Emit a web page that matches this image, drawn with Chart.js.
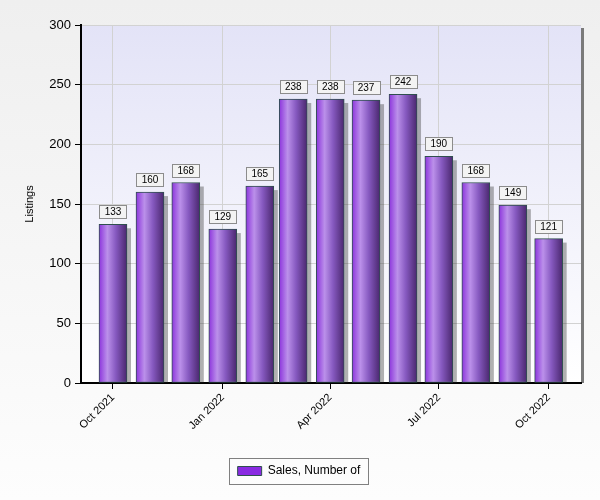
<!DOCTYPE html>
<html>
<head>
<meta charset="utf-8">
<script src="https://cdn.jsdelivr.net/npm/chart.js@4"></script>
<style>
  html, body { margin: 0; padding: 0; background: #f0f0f0; }
  #wrap { width: 600px; height: 500px; }
</style>
</head>
<body>
<div id="wrap"><canvas id="chart" width="600" height="500"></canvas></div>
<script>
const months = ['Oct 2021', 'Nov 2021', 'Dec 2021', 'Jan 2022', 'Feb 2022', 'Mar 2022', 'Apr 2022',
  'May 2022', 'Jun 2022', 'Jul 2022', 'Aug 2022', 'Sep 2022', 'Oct 2022'];
const monthDates = ['2021-10-01', '2021-11-01', '2021-12-01', '2022-01-01', '2022-02-01', '2022-03-01',
  '2022-04-01', '2022-05-01', '2022-06-01', '2022-07-01', '2022-08-01', '2022-09-01', '2022-10-01'];
const sales = [133, 160, 168, 129, 165, 238, 238, 237, 242, 190, 168, 149, 121];
const tickMonths = [0, 3, 6, 9, 12];
const yTicks = [0, 50, 100, 150, 200, 250, 300];

const FONT = '"Liberation Sans", Arial, sans-serif';
const SWATCH = '#8a2be2';
const DAY = 86400000;

// days since the first month, so bars sit on a real date axis
const dayOf = monthDates.map((d) => Math.round((Date.parse(d) - Date.parse(monthDates[0])) / DAY));

function barFill(context) {
  const chart = context.chart;
  if (context.dataIndex === undefined || !chart.scales.x) return SWATCH;
  const x = chart.scales.x.getPixelForValue(dayOf[context.dataIndex]);
  if (!Number.isFinite(x)) return SWATCH;
  const g = chart.ctx.createLinearGradient(x - 14, 0, x + 14, 0);
  g.addColorStop(0, '#8c34dc');
  g.addColorStop(0.3, '#bb90ea');
  g.addColorStop(0.6, '#8659c0');
  g.addColorStop(1, '#4a276e');
  return g;
}

const backdrop = {
  id: 'backdrop',
  beforeDraw(chart) {
    const { ctx, width, height, chartArea: a } = chart;
    ctx.save();
    const page = ctx.createLinearGradient(0, 0, 0, height);
    page.addColorStop(0, '#efefef');
    page.addColorStop(1, '#fdfdfd');
    ctx.fillStyle = page;
    ctx.fillRect(0, 0, width, height);
    // right-side shadow of the plot frame
    ctx.fillStyle = '#7a7a7a';
    ctx.fillRect(a.right, a.top + 3, 3, a.bottom - a.top - 3);
    const plot = ctx.createLinearGradient(0, a.top, 0, a.bottom);
    plot.addColorStop(0, '#e3e3f7');
    plot.addColorStop(1, '#ffffff');
    ctx.fillStyle = plot;
    ctx.fillRect(a.left, a.top, a.right - a.left, a.bottom - a.top);
    ctx.strokeStyle = '#c8c8c8';
    ctx.lineWidth = 1;
    ctx.beginPath();
    ctx.moveTo(a.left, a.top + 0.5);
    ctx.lineTo(a.right, a.top + 0.5);
    ctx.stroke();
    ctx.restore();
  }
};

const barShadows = {
  id: 'barShadows',
  beforeDatasetsDraw(chart) {
    const { ctx } = chart;
    ctx.save();
    ctx.fillStyle = 'rgba(60,60,60,0.4)';
    chart.getDatasetMeta(0).data.forEach((bar) => {
      const { x, y, base, width } = bar.getProps(['x', 'y', 'base', 'width'], true);
      ctx.fillRect(x + width / 2, y + 4, 4, base - y - 4);
    });
    ctx.restore();
  }
};

const valueBoxes = {
  id: 'valueBoxes',
  afterDatasetsDraw(chart) {
    const { ctx } = chart;
    ctx.save();
    ctx.font = '10px ' + FONT;
    ctx.textAlign = 'center';
    ctx.textBaseline = 'middle';
    chart.getDatasetMeta(0).data.forEach((bar, i) => {
      const { x, y } = bar.getProps(['x', 'y'], true);
      const text = String(sales[i]);
      const w = Math.round(ctx.measureText(text).width) + 10;
      const h = 13;
      const left = Math.round(x - w / 2) + 0.5;
      const top = Math.round(y - 6 - h) + 0.5;
      ctx.fillStyle = '#f3f3f3';
      ctx.fillRect(left, top, w, h);
      ctx.strokeStyle = '#8c8c8c';
      ctx.lineWidth = 1;
      ctx.strokeRect(left, top, w, h);
      ctx.fillStyle = '#000';
      ctx.fillText(text, x, top + h / 2 + 0.5);
    });
    ctx.restore();
  }
};

const legendFrame = {
  id: 'legendFrame',
  afterDraw(chart) {
    const box = chart.legend.legendHitBoxes[0];
    if (!box) return;
    const { ctx } = chart;
    const left = Math.round(box.left - 9) + 0.5;
    const top = Math.round(box.top + box.height / 2 - 13) + 0.5;
    const w = Math.round(box.width + 16);
    const h = 26;
    ctx.save();
    ctx.globalCompositeOperation = 'destination-over';
    ctx.fillStyle = '#e4e4f8';
    ctx.fillRect(left, top, w, h);
    ctx.fillStyle = '#8a8a8a';
    ctx.fillRect(left + 3, top + 3, w, h);
    ctx.restore();
    ctx.save();
    ctx.strokeStyle = '#808080';
    ctx.lineWidth = 1;
    ctx.strokeRect(left, top, w, h);
    ctx.restore();
  }
};

new Chart(document.getElementById('chart'), {
  type: 'bar',
  data: {
    datasets: [{
      label: 'Sales, Number of',
      data: sales.map((v, i) => ({ x: dayOf[i], y: v })),
      backgroundColor: barFill,
      borderColor: '#2f4f4f',
      borderWidth: 1,
      borderSkipped: false,
      barThickness: 28
    }]
  },
  options: {
    responsive: false,
    animation: false,
    layout: { padding: { left: 17, right: 19, top: 25, bottom: 13 } },
    plugins: {
      legend: {
        position: 'bottom',
        labels: {
          boxWidth: 24,
          boxHeight: 9,
          padding: 10,
          color: '#000',
          font: { family: FONT, size: 12 },
          generateLabels(chart) {
            return Chart.defaults.plugins.legend.labels.generateLabels(chart).map((item) => {
              item.fillStyle = SWATCH;
              item.strokeStyle = '#2f4f4f';
              return item;
            });
          }
        }
      },
      tooltip: { enabled: false }
    },
    scales: {
      x: {
        type: 'linear',
        offset: false,
        min: -26.8,
        max: 392.1,
        afterBuildTicks(scale) {
          scale.ticks = tickMonths.map((i) => ({ value: dayOf[i] }));
        },
        afterFit(scale) { scale.height = 72; },
        ticks: {
          autoSkip: false,
          minRotation: 45,
          maxRotation: 45,
          padding: 2,
          color: '#000',
          font: { family: FONT, size: 11 },
          callback: (v) => months[dayOf.indexOf(v)]
        },
        grid: { color: '#d2d2d2', tickColor: '#000', tickLength: 6, offset: false },
        border: { color: '#000', width: 2 }
      },
      y: {
        min: 0,
        max: 300,
        afterBuildTicks(scale) {
          scale.ticks = yTicks.map((v) => ({ value: v }));
        },
        afterFit(scale) { scale.width = 64; },
        ticks: {
          padding: 4,
          color: '#000',
          font: { family: FONT, size: 13 }
        },
        grid: { color: '#d2d2d2', tickColor: '#000', tickLength: 6 },
        border: { color: '#000', width: 2 },
        title: {
          display: true,
          text: 'Listings',
          color: '#000',
          font: { family: FONT, size: 11 },
          padding: { top: 6, bottom: 0 }
        }
      }
    }
  },
  plugins: [backdrop, barShadows, valueBoxes, legendFrame]
});
</script>
</body>
</html>
